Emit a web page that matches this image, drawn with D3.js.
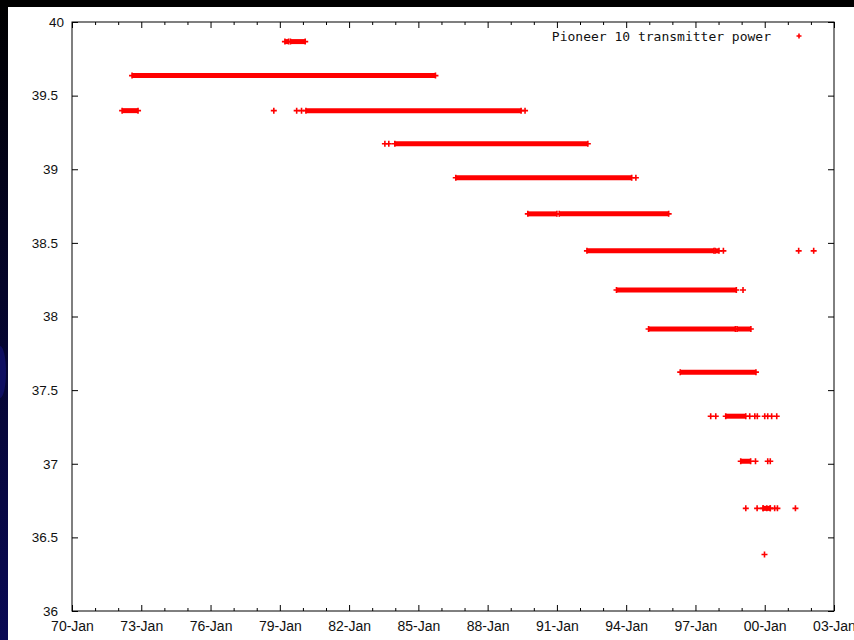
<!DOCTYPE html>
<html>
<head>
<meta charset="utf-8">
<script src="https://cdn.jsdelivr.net/npm/d3@7"></script>
<style>
  html, body { margin: 0; padding: 0; background: #fff; }
  svg { display: block; }
</style>
</head>
<body>
<svg id="chart" width="854" height="640"></svg>
<script>
// ---------- DATA (decimal years, transmitter power levels in dBm) ----------
const xMajorTicks = [1970, 1973, 1976, 1979, 1982, 1985, 1988, 1991, 1994, 1997, 2000, 2003];
const xTickLabels = ["70-Jan", "73-Jan", "76-Jan", "79-Jan", "82-Jan", "85-Jan", "88-Jan", "91-Jan", "94-Jan", "97-Jan", "00-Jan", "03-Jan"];
const yTicks = [36, 36.5, 37, 37.5, 38, 38.5, 39, 39.5, 40];
const seriesName = "Pioneer 10 transmitter power";

// dense runs of readings: level, first date, last date
const runLevel = [39.867, 39.867, 39.636, 39.398, 39.398, 39.173, 38.942, 38.697, 38.697, 38.446, 38.446, 38.180, 37.915, 37.915, 37.622, 37.323, 37.017, 36.697];
const runStart = [1979.22, 1979.46, 1972.60, 1972.17, 1980.13, 1983.98, 1986.62, 1989.74, 1991.10, 1992.30, 1997.85, 1993.58, 1994.97, 1998.80, 1996.34, 1998.31, 1998.96, 1999.93];
const runEnd   = [1979.38, 1980.10, 1985.74, 1972.86, 1989.45, 1992.34, 1994.24, 1991.00, 1995.84, 1997.80, 1998.02, 1998.77, 1998.73, 1999.40, 1999.62, 1999.18, 1999.39, 2000.24];

// isolated readings
const ptLevel = [39.398, 39.398, 39.398, 39.398, 39.173, 39.173, 38.942, 38.446, 38.446, 38.446, 38.180,
                 37.323, 37.323, 37.323, 37.323, 37.323, 37.323, 37.323, 37.323, 37.323,
                 37.017, 37.017, 37.017,
                 36.697, 36.697, 36.697, 36.697, 36.697, 36.697, 36.697, 36.697,
                 36.384];
const ptDate  = [1978.74, 1979.73, 1979.94, 1989.62, 1983.55, 1983.72, 1994.42, 1998.21, 2001.47, 2002.12, 1999.06,
                 1997.66, 1997.88, 1999.35, 1999.57, 1999.68, 2000.00, 2000.13, 2000.30, 2000.52,
                 1999.60, 2000.13, 2000.24,
                 1999.18, 1999.67, 1999.93, 2000.09, 2000.24, 2000.43, 2000.55, 2001.33,
                 1999.99];

// ---------- LAYOUT ----------
const svg = d3.select("#chart");
const W = 854, H = 640;
const plot = { left: 72, top: 22, right: 834, bottom: 611 };
const RED = "#ff0000";

// slide background: black top band, dark navy left strip
const defs = svg.append("defs");
const grad = defs.append("linearGradient").attr("id", "navy").attr("x1", 0).attr("y1", 0).attr("x2", 0).attr("y2", 1);
grad.append("stop").attr("offset", "0").attr("stop-color", "#000000");
grad.append("stop").attr("offset", "0.45").attr("stop-color", "#05052a");
grad.append("stop").attr("offset", "1").attr("stop-color", "#0a0a55");
svg.append("rect").attr("x", 0).attr("y", 0).attr("width", W).attr("height", H).attr("fill", "#fff");
svg.append("rect").attr("x", 0).attr("y", 0).attr("width", 8).attr("height", H).attr("fill", "url(#navy)");
svg.append("ellipse").attr("cx", 0).attr("cy", 372).attr("rx", 6).attr("ry", 26).attr("fill", "#1a1a9a").attr("opacity", 0.45);
svg.append("rect").attr("x", 0).attr("y", 0).attr("width", W).attr("height", 7).attr("fill", "#000");

// ---------- SCALES ----------
const x = d3.scaleLinear().domain([1970, 2003]).range([plot.left, plot.right]);
const y = d3.scaleLinear().domain([36, 40]).range([plot.bottom, plot.top]);
const xMinorTicks = d3.range(1970, 2004).filter(v => !xMajorTicks.includes(v));

// ---------- AXES (gnuplot style, inward ticks on all sides) ----------
const fontFam = "'Liberation Sans', Arial, sans-serif";
function styleAxis(size) {
  return g => {
    g.select(".domain").remove();
    g.selectAll(".tick line").attr("stroke", "#000").attr("stroke-width", 1);
    g.selectAll(".tick text").attr("fill", "#111").style("font-family", fontFam).style("font-size", size);
  };
}
const fmtX = d => xTickLabels[xMajorTicks.indexOf(d)];

svg.append("g").attr("transform", `translate(0,${plot.bottom})`)
  .call(d3.axisBottom(x).tickValues(xMajorTicks).tickFormat(fmtX).tickSize(-6).tickPadding(10))
  .call(styleAxis("14px"));
svg.append("g").attr("transform", `translate(0,${plot.bottom})`)
  .call(d3.axisBottom(x).tickValues(xMinorTicks).tickFormat("").tickSize(-3))
  .call(styleAxis("14px"));
svg.append("g").attr("transform", `translate(0,${plot.top})`)
  .call(d3.axisTop(x).tickValues(xMajorTicks).tickFormat("").tickSize(-6))
  .call(styleAxis("14px"));
svg.append("g").attr("transform", `translate(0,${plot.top})`)
  .call(d3.axisTop(x).tickValues(xMinorTicks).tickFormat("").tickSize(-3))
  .call(styleAxis("14px"));
const yAxisG = svg.append("g").attr("transform", `translate(${plot.left},0)`)
  .call(d3.axisLeft(y).tickValues(yTicks).tickFormat(d3.format("")).tickSize(-6).tickPadding(14))
  .call(styleAxis("13.5px"));
// the top label sits a little to the right in the reference
yAxisG.selectAll(".tick").filter(d => d === 40).select("text").attr("dx", "6");
svg.append("g").attr("transform", `translate(${plot.right},0)`)
  .call(d3.axisRight(y).tickValues(yTicks).tickFormat("").tickSize(-6))
  .call(styleAxis("13.5px"));

// frame
svg.append("rect")
  .attr("x", plot.left).attr("y", plot.top)
  .attr("width", plot.right - plot.left).attr("height", plot.bottom - plot.top)
  .attr("fill", "none").attr("stroke", "#000").attr("stroke-width", 1);

// ---------- MARKS ----------
const runs = runLevel.map((v, i) => ({ v, a: runStart[i], b: runEnd[i] }));
const pts = ptLevel.map((v, i) => ({ v, d: ptDate[i] }));

const plus = (g, cx, cy, s) => {
  g.append("path")
    .attr("d", `M${cx - s},${cy}H${cx + s}M${cx},${cy - s}V${cy + s}`)
    .attr("stroke", RED).attr("stroke-width", 1.6).attr("fill", "none");
};

const marks = svg.append("g");
marks.selectAll("line.run").data(runs).join("line")
  .attr("class", "run")
  .attr("x1", d => x(d.a)).attr("x2", d => x(d.b))
  .attr("y1", d => y(d.v)).attr("y2", d => y(d.v))
  .attr("stroke", RED).attr("stroke-width", 5);
runs.forEach(d => { plus(marks, x(d.a), y(d.v), 3); plus(marks, x(d.b), y(d.v), 3); });
pts.forEach(d => plus(marks, x(d.d), y(d.v), 3));

// ---------- LEGEND ----------
svg.append("text")
  .attr("x", 771).attr("y", 41)
  .attr("text-anchor", "end")
  .style("font-family", "'DejaVu Sans Mono', monospace")
  .style("font-size", "13px")
  .attr("fill", "#111")
  .text(seriesName);
plus(svg, 799, 36, 2.5);
</script>
</body>
</html>
